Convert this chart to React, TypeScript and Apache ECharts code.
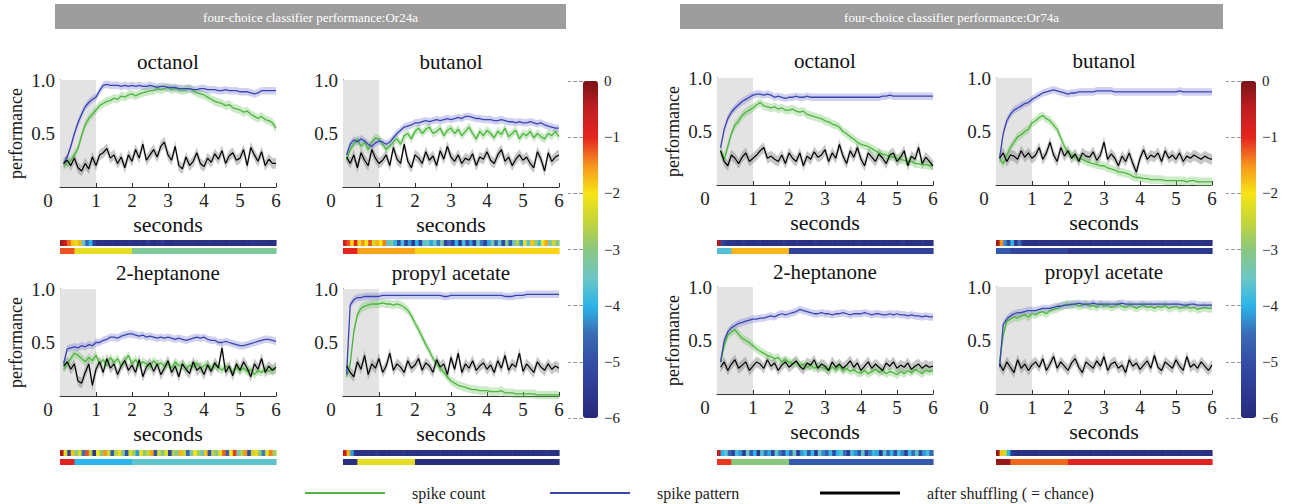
import React, { useEffect, useRef } from 'react';
import * as echarts from 'echarts';

// ---------- data ----------
const TIMES = [0.1,0.2,0.3,0.4,0.5,0.6,0.7,0.8,0.9,1.0, 1.1,1.2,1.3,1.4,1.5,1.6,1.7,1.8,1.9,2.0, 2.1,2.2,2.3,2.4,2.5,2.6,2.7,2.8,2.9,3.0, 3.1,3.2,3.3,3.4,3.5,3.6,3.7,3.8,3.9,4.0, 4.1,4.2,4.3,4.4,4.5,4.6,4.7,4.8,4.9,5.0, 5.1,5.2,5.3,5.4,5.5,5.6,5.7,5.8,5.9,6.0];
const SHADE = [[0, 1]];
const BOT_EDGES = [0, 0.4, 2, 6];
const SECOND_TICKS = [0, 1, 2, 3, 4, 5, 6];
const LEGEND_NAMES = ['spike count', 'spike pattern', 'after shuffling ( = chance)'];
const PANEL_TITLES = ['four-choice classifier performance:Or24a', 'four-choice classifier performance:Or74a'];
const ODORS = ['octanol', 'butanol', '2-heptanone', 'propyl acetate', 'octanol', 'butanol', '2-heptanone', 'propyl acetate'];
const HALF_WIDTH = { green: 0.04, blue: 0.035, black: 0.05 };

// Or24a octanol
const A_GREEN = [0.20,0.22,0.25,0.30,0.36,0.48,0.58,0.64,0.68,0.72, 0.76,0.78,0.80,0.81,0.83,0.82,0.85,0.84,0.86,0.87, 0.85,0.87,0.88,0.89,0.90,0.90,0.92,0.91,0.92,0.93, 0.91,0.92,0.91,0.90,0.91,0.92,0.90,0.88,0.87,0.86, 0.84,0.82,0.80,0.79,0.78,0.76,0.77,0.74,0.73,0.72, 0.70,0.71,0.68,0.66,0.64,0.66,0.63,0.62,0.60,0.55];
const A_BLUE = [0.22,0.28,0.38,0.50,0.60,0.68,0.75,0.79,0.82,0.84, 0.90,0.95,0.96,0.95,0.95,0.95,0.94,0.95,0.94,0.95, 0.94,0.95,0.94,0.94,0.95,0.94,0.93,0.94,0.94,0.93, 0.93,0.93,0.92,0.92,0.92,0.92,0.91,0.91,0.92,0.92, 0.91,0.91,0.91,0.90,0.90,0.91,0.90,0.90,0.90,0.89, 0.89,0.89,0.88,0.87,0.88,0.90,0.90,0.90,0.90,0.90];
const A_BLACK = [0.22,0.25,0.20,0.27,0.18,0.15,0.22,0.17,0.28,0.20, 0.30,0.32,0.36,0.27,0.30,0.22,0.28,0.18,0.30,0.24, 0.35,0.27,0.40,0.25,0.30,0.35,0.28,0.38,0.42,0.30, 0.25,0.38,0.20,0.17,0.28,0.20,0.24,0.32,0.22,0.19, 0.27,0.23,0.31,0.26,0.34,0.22,0.29,0.32,0.25,0.27, 0.35,0.20,0.37,0.30,0.24,0.33,0.20,0.26,0.22,0.22];
// Or24a butanol
const B_GREEN = [0.25,0.35,0.40,0.45,0.38,0.42,0.35,0.42,0.46,0.45, 0.40,0.35,0.38,0.42,0.45,0.40,0.48,0.50,0.45,0.52, 0.55,0.50,0.54,0.56,0.50,0.52,0.55,0.48,0.53,0.55, 0.50,0.54,0.48,0.52,0.56,0.50,0.45,0.52,0.48,0.53, 0.50,0.46,0.52,0.49,0.55,0.47,0.50,0.53,0.45,0.50, 0.48,0.52,0.46,0.50,0.47,0.45,0.50,0.48,0.52,0.47];
const B_BLUE = [0.30,0.40,0.44,0.42,0.45,0.43,0.40,0.38,0.41,0.43, 0.42,0.40,0.42,0.46,0.50,0.53,0.56,0.57,0.58,0.60, 0.60,0.61,0.62,0.61,0.62,0.63,0.62,0.63,0.64,0.63, 0.64,0.65,0.64,0.66,0.66,0.65,0.64,0.64,0.63,0.63, 0.63,0.62,0.62,0.63,0.62,0.61,0.61,0.60,0.61,0.60, 0.60,0.61,0.60,0.59,0.60,0.58,0.57,0.56,0.55,0.55];
const B_BLACK = [0.28,0.22,0.30,0.18,0.32,0.25,0.20,0.35,0.27,0.22, 0.25,0.30,0.20,0.37,0.26,0.22,0.40,0.24,0.18,0.30, 0.27,0.22,0.33,0.25,0.29,0.20,0.34,0.26,0.38,0.28, 0.24,0.30,0.22,0.27,0.25,0.31,0.20,0.28,0.26,0.33, 0.25,0.22,0.30,0.35,0.24,0.28,0.20,0.26,0.30,0.25, 0.28,0.22,0.18,0.33,0.26,0.15,0.32,0.24,0.28,0.30];
// Or24a 2-heptanone
const C_GREEN = [0.25,0.30,0.35,0.40,0.38,0.35,0.32,0.36,0.33,0.38, 0.30,0.34,0.28,0.36,0.31,0.35,0.28,0.33,0.38,0.30, 0.34,0.28,0.32,0.30,0.27,0.33,0.29,0.31,0.28,0.30, 0.26,0.32,0.28,0.30,0.25,0.29,0.27,0.31,0.26,0.28, 0.30,0.25,0.29,0.27,0.24,0.28,0.26,0.22,0.27,0.24, 0.26,0.23,0.25,0.20,0.24,0.22,0.26,0.23,0.25,0.25];
const C_BLUE = [0.30,0.44,0.45,0.46,0.45,0.47,0.46,0.48,0.47,0.50, 0.50,0.52,0.53,0.55,0.55,0.54,0.56,0.57,0.58,0.58, 0.57,0.56,0.57,0.55,0.56,0.55,0.54,0.55,0.54,0.55, 0.54,0.53,0.54,0.53,0.52,0.53,0.54,0.55,0.54,0.55, 0.53,0.52,0.52,0.50,0.50,0.51,0.50,0.49,0.48,0.47, 0.47,0.48,0.49,0.50,0.51,0.52,0.53,0.53,0.52,0.51];
const C_BLACK = [0.28,0.32,0.25,0.30,0.14,0.12,0.22,0.30,0.10,0.25, 0.32,0.22,0.35,0.26,0.30,0.20,0.28,0.33,0.24,0.29, 0.22,0.34,0.18,0.27,0.31,0.23,0.30,0.20,0.26,0.33, 0.22,0.28,0.18,0.30,0.25,0.21,0.32,0.24,0.27,0.20, 0.29,0.23,0.31,0.26,0.45,0.22,0.28,0.19,0.30,0.24, 0.32,0.26,0.18,0.30,0.25,0.35,0.22,0.28,0.24,0.27];
// Or24a propyl acetate
const D_GREEN = [0.18,0.30,0.60,0.76,0.82,0.84,0.85,0.86,0.86,0.86, 0.87,0.86,0.86,0.85,0.86,0.85,0.83,0.80,0.75,0.68, 0.62,0.55,0.48,0.42,0.35,0.30,0.26,0.22,0.18,0.14, 0.12,0.10,0.09,0.08,0.07,0.06,0.06,0.05,0.05,0.05, 0.04,0.04,0.04,0.05,0.03,0.03,0.03,0.02,0.02,0.02, 0.02,0.02,0.02,0.01,0.01,0.01,0.01,0.01,0.01,0.01];
const D_BLUE = [0.20,0.85,0.90,0.92,0.92,0.93,0.93,0.93,0.93,0.93, 0.94,0.94,0.94,0.94,0.94,0.94,0.94,0.94,0.94,0.94, 0.94,0.94,0.94,0.94,0.94,0.94,0.94,0.93,0.93,0.94, 0.94,0.94,0.94,0.94,0.94,0.94,0.94,0.94,0.94,0.94, 0.94,0.94,0.94,0.94,0.93,0.93,0.93,0.94,0.94,0.94, 0.95,0.95,0.95,0.95,0.95,0.95,0.95,0.95,0.95,0.95];
const D_BLACK = [0.28,0.22,0.18,0.32,0.25,0.38,0.20,0.30,0.26,0.35, 0.22,0.28,0.40,0.24,0.30,0.27,0.22,0.33,0.26,0.29, 0.35,0.24,0.31,0.28,0.22,0.34,0.27,0.30,0.20,0.36, 0.25,0.40,0.22,0.30,0.26,0.33,0.24,0.28,0.31,0.25, 0.29,0.22,0.33,0.26,0.38,0.24,0.30,0.27,0.40,0.23, 0.30,0.26,0.22,0.32,0.27,0.24,0.30,0.25,0.28,0.26];
// Or74a octanol
const E_GREEN = [0.32,0.24,0.36,0.48,0.56,0.60,0.65,0.68,0.70,0.72, 0.75,0.77,0.74,0.73,0.72,0.73,0.71,0.72,0.70,0.70, 0.71,0.69,0.68,0.69,0.66,0.65,0.64,0.63,0.62,0.60, 0.59,0.57,0.56,0.54,0.50,0.48,0.45,0.43,0.40,0.38, 0.37,0.36,0.34,0.32,0.30,0.29,0.28,0.27,0.26,0.25, 0.24,0.23,0.22,0.22,0.20,0.20,0.19,0.19,0.18,0.18];
const E_BLUE = [0.35,0.52,0.62,0.68,0.72,0.75,0.78,0.80,0.82,0.84, 0.85,0.85,0.84,0.85,0.84,0.82,0.83,0.82,0.81,0.82, 0.82,0.83,0.82,0.82,0.83,0.82,0.82,0.82,0.82,0.82, 0.82,0.82,0.82,0.82,0.82,0.82,0.82,0.82,0.82,0.82, 0.82,0.82,0.82,0.82,0.82,0.83,0.83,0.84,0.83,0.83, 0.83,0.83,0.83,0.83,0.83,0.83,0.83,0.83,0.83,0.83];
const E_BLACK = [0.32,0.22,0.18,0.28,0.25,0.20,0.26,0.30,0.22,0.25, 0.28,0.32,0.35,0.25,0.27,0.24,0.22,0.28,0.20,0.30, 0.25,0.22,0.30,0.18,0.27,0.24,0.31,0.26,0.28,0.33, 0.22,0.30,0.25,0.38,0.27,0.20,0.32,0.26,0.35,0.24, 0.18,0.30,0.26,0.22,0.29,0.25,0.20,0.28,0.30,0.22, 0.26,0.32,0.18,0.27,0.24,0.35,0.20,0.26,0.22,0.18];
// Or74a butanol
const F_GREEN = [0.25,0.20,0.28,0.35,0.40,0.45,0.47,0.50,0.52,0.58, 0.60,0.63,0.65,0.62,0.60,0.56,0.52,0.44,0.36,0.30, 0.28,0.26,0.25,0.24,0.22,0.21,0.20,0.19,0.18,0.18, 0.16,0.15,0.14,0.12,0.12,0.11,0.10,0.08,0.07,0.07, 0.06,0.06,0.05,0.05,0.05,0.05,0.04,0.04,0.04,0.04, 0.04,0.04,0.03,0.04,0.04,0.03,0.03,0.03,0.03,0.03];
const F_BLUE = [0.25,0.48,0.60,0.66,0.70,0.72,0.74,0.76,0.77,0.80, 0.82,0.84,0.86,0.87,0.88,0.89,0.88,0.87,0.86,0.85, 0.86,0.86,0.87,0.87,0.87,0.87,0.87,0.88,0.88,0.88, 0.88,0.88,0.87,0.87,0.87,0.87,0.87,0.87,0.87,0.87, 0.87,0.87,0.87,0.87,0.87,0.87,0.87,0.87,0.87,0.87, 0.88,0.87,0.87,0.87,0.87,0.87,0.87,0.87,0.87,0.87];
const F_BLACK = [0.25,0.30,0.22,0.28,0.27,0.24,0.32,0.26,0.30,0.25, 0.28,0.35,0.24,0.30,0.40,0.28,0.22,0.35,0.27,0.32, 0.25,0.29,0.22,0.30,0.27,0.26,0.31,0.23,0.28,0.40, 0.24,0.29,0.25,0.18,0.27,0.22,0.30,0.20,0.12,0.25, 0.33,0.24,0.28,0.26,0.30,0.22,0.32,0.25,0.28,0.24, 0.30,0.22,0.27,0.25,0.28,0.26,0.24,0.27,0.25,0.24];
// Or74a 2-heptanone
const G_GREEN = [0.30,0.45,0.55,0.58,0.60,0.56,0.52,0.50,0.48,0.45, 0.42,0.40,0.38,0.36,0.35,0.33,0.34,0.30,0.32,0.30, 0.28,0.30,0.26,0.28,0.25,0.27,0.24,0.26,0.25,0.24, 0.22,0.25,0.23,0.26,0.22,0.24,0.21,0.23,0.20,0.20, 0.22,0.19,0.21,0.23,0.20,0.22,0.19,0.21,0.20,0.18, 0.21,0.19,0.22,0.20,0.23,0.21,0.19,0.22,0.21,0.22];
const G_BLUE = [0.30,0.50,0.58,0.62,0.64,0.66,0.67,0.68,0.69,0.70, 0.70,0.71,0.71,0.72,0.73,0.72,0.74,0.75,0.74,0.75, 0.76,0.77,0.79,0.78,0.77,0.76,0.75,0.75,0.76,0.75, 0.75,0.74,0.75,0.75,0.76,0.75,0.74,0.75,0.75,0.75, 0.76,0.75,0.74,0.75,0.75,0.74,0.74,0.75,0.74,0.75, 0.74,0.74,0.73,0.74,0.73,0.73,0.72,0.73,0.72,0.72];
const G_BLACK = [0.25,0.30,0.22,0.28,0.32,0.24,0.27,0.30,0.22,0.26, 0.30,0.28,0.24,0.32,0.26,0.29,0.22,0.27,0.30,0.25, 0.28,0.31,0.26,0.23,0.29,0.27,0.32,0.24,0.28,0.26, 0.22,0.30,0.25,0.28,0.24,0.27,0.31,0.25,0.29,0.22, 0.26,0.30,0.24,0.28,0.25,0.22,0.29,0.26,0.30,0.24, 0.27,0.25,0.29,0.23,0.26,0.28,0.24,0.27,0.25,0.26];
// Or74a propyl acetate
const H_GREEN = [0.30,0.55,0.68,0.70,0.72,0.71,0.73,0.74,0.72,0.75, 0.74,0.76,0.77,0.75,0.78,0.79,0.80,0.82,0.83,0.84, 0.83,0.84,0.82,0.83,0.84,0.82,0.83,0.81,0.84,0.82, 0.83,0.81,0.82,0.84,0.82,0.81,0.83,0.82,0.80,0.82, 0.83,0.81,0.82,0.80,0.82,0.81,0.83,0.80,0.81,0.82, 0.80,0.81,0.82,0.80,0.81,0.79,0.80,0.81,0.80,0.80];
const H_BLUE = [0.25,0.65,0.70,0.73,0.75,0.76,0.76,0.77,0.78,0.78, 0.78,0.79,0.80,0.80,0.80,0.81,0.82,0.82,0.83,0.83, 0.84,0.84,0.85,0.84,0.84,0.84,0.85,0.84,0.84,0.84, 0.84,0.84,0.84,0.84,0.85,0.84,0.84,0.84,0.84,0.84, 0.84,0.84,0.84,0.84,0.84,0.84,0.84,0.84,0.84,0.84, 0.84,0.83,0.83,0.84,0.84,0.83,0.83,0.83,0.83,0.83];
const H_BLACK = [0.28,0.22,0.30,0.25,0.20,0.32,0.24,0.28,0.22,0.27, 0.30,0.25,0.33,0.22,0.28,0.35,0.24,0.30,0.26,0.22, 0.29,0.33,0.25,0.20,0.30,0.27,0.24,0.31,0.26,0.35, 0.22,0.28,0.30,0.24,0.27,0.20,0.32,0.26,0.29,0.23, 0.27,0.31,0.24,0.36,0.25,0.22,0.30,0.27,0.24,0.32, 0.26,0.22,0.35,0.25,0.28,0.24,0.30,0.26,0.22,0.27];

// log p-value strips (per 0.1 s bin) and per epoch
const A_STRIP = [-0.3,-0.7,-1.3,-1.8,-2.2,-1.7,-3.5,-4.6,-4.0,-5.4, -5.8,-5.7,-5.8,-5.8,-5.7,-5.8,-5.8,-5.8,-5.8,-5.7, -5.8,-5.8,-5.8,-5.8,-5.5,-5.8,-5.8,-5.8,-5.5,-5.8, -5.8,-5.8,-5.8,-5.8,-5.8,-5.8,-5.8,-5.8,-5.8,-5.8, -5.8,-5.7,-5.8,-5.8,-5.8,-5.8,-5.8,-5.8,-5.8,-5.8, -5.8,-5.8,-5.8,-5.6,-5.8,-5.8,-5.8,-5.8,-5.8,-5.8];
const B_STRIP = [-0.8,-1.2,-1.9,-1.0,-2.2,-1.5,-2.0,-1.2,-2.4,-1.7, -2.0,-1.4,-3.6,-3.2,-4.0,-5.0,-3.8,-5.3,-4.2,-5.5, -4.0,-5.2,-3.6,-3.4,-4.1,-3.5,-4.4,-3.3,-5.2,-4.6, -5.4,-4.0,-5.6,-3.8,-5.0,-4.2,-5.5,-3.5,-4.4,-5.3, -4.1,-3.3,-4.6,-3.6,-5.2,-3.2,-4.8,-3.4,-2.6,-4.2, -2.2,-3.6,-1.8,-2.8,-3.8,-2.0,-1.6,-3.4,-2.4,-3.0];
const C_STRIP = [-0.4,-2.2,-5.2,-1.8,-3.0,-2.3,-4.5,-1.2,-2.6,-5.6, -2.0,-3.0,-1.5,-2.4,-4.8,-2.7,-1.9,-3.2,-5.0,-2.3, -2.8,-4.2,-2.1,-3.0,-2.5,-1.6,-4.9,-2.4,-3.1,-2.2, -5.3,-2.7,-3.0,-1.7,-2.5,-4.6,-3.2,-2.0,-2.8,-3.4, -1.8,-5.0,-2.6,-3.1,-2.2,-1.3,-4.7,-2.0,-1.1,-3.3, -2.7,-1.5,-5.1,-2.5,-1.9,-3.0,-4.4,-2.2,-1.4,-2.8];
const D_STRIP = [-0.6,-1.7,-4.2,-5.7,-5.8,-5.8,-5.8,-5.8,-5.8,-5.6, -5.8,-5.8,-5.8,-5.8,-5.8,-5.8,-5.6,-5.8,-5.8,-5.8, -5.8,-5.8,-5.8,-5.8,-5.8,-5.8,-5.8,-5.8,-5.8,-5.8, -5.8,-5.8,-5.8,-5.8,-5.8,-5.8,-5.8,-5.8,-5.8,-5.8, -5.8,-5.8,-5.8,-5.8,-5.8,-5.8,-5.8,-5.8,-5.8,-5.8, -5.8,-5.8,-5.8,-5.8,-5.8,-5.8,-5.6,-5.8,-5.8,-5.8];
const E_STRIP = [-0.4,-5.3,-5.6,-5.8,-5.7,-5.8,-5.8,-5.6,-5.8,-5.8, -5.8,-5.7,-5.8,-5.8,-5.8,-5.8,-5.8,-5.8,-5.6,-5.8, -5.8,-5.8,-5.7,-5.8,-5.8,-5.8,-5.8,-5.6,-5.8,-5.8, -5.8,-5.8,-5.8,-5.7,-5.8,-5.8,-5.8,-5.8,-5.8,-5.6, -5.8,-5.8,-5.8,-5.8,-5.8,-5.7,-5.8,-5.8,-5.8,-5.8, -5.8,-5.6,-5.8,-5.8,-5.8,-5.8,-5.8,-5.7,-5.8,-5.8];
const F_STRIP = [-0.3,-1.5,-4.3,-5.2,-4.0,-5.5,-4.6,-5.7,-5.8,-5.8, -5.8,-5.8,-5.8,-5.8,-5.8,-5.8,-5.8,-5.8,-5.8,-5.8, -5.8,-5.8,-5.8,-5.8,-5.8,-5.8,-5.8,-5.8,-5.8,-5.8, -5.8,-5.8,-5.8,-5.8,-5.8,-5.8,-5.8,-5.8,-5.8,-5.8, -5.8,-5.8,-5.8,-5.8,-5.8,-5.8,-5.8,-5.8,-5.8,-5.8, -5.8,-5.8,-5.8,-5.8,-5.8,-5.8,-5.8,-5.8,-5.8,-5.8];
const G_STRIP = [-0.5,-4.0,-3.6,-4.6,-5.2,-3.8,-4.2,-5.5,-3.5,-4.8, -4.0,-5.6,-3.7,-4.5,-4.1,-5.3,-3.6,-4.4,-5.0,-3.9, -4.6,-3.5,-5.4,-4.2,-3.8,-4.9,-4.0,-5.6,-3.6,-4.3, -4.7,-3.9,-5.1,-4.0,-3.7,-4.5,-5.5,-3.8,-4.2,-4.8, -3.6,-5.2,-4.4,-3.9,-4.1,-5.6,-3.7,-4.6,-4.0,-5.0, -3.8,-4.3,-5.4,-3.9,-4.5,-3.6,-5.1,-4.2,-3.8,-4.6];
const H_STRIP = [-0.2,-1.8,-2.4,-4.0,-5.6,-5.8,-5.8,-5.8,-5.8,-5.8, -5.8,-5.8,-5.8,-5.8,-5.8,-5.8,-5.8,-5.8,-5.8,-5.8, -5.8,-5.8,-5.8,-5.8,-5.8,-5.8,-5.8,-5.8,-5.8,-5.8, -5.8,-5.8,-5.8,-5.8,-5.8,-5.8,-5.8,-5.8,-5.8,-5.8, -5.8,-5.8,-5.8,-5.8,-5.8,-5.8,-5.8,-5.8,-5.8,-5.8, -5.8,-5.8,-5.8,-5.8,-5.8,-5.8,-5.8,-5.8,-5.8,-5.8];
const A_EPOCH = [-1.2, -2.2, -3.2];
const B_EPOCH = [-1.0, -1.6, -1.9];
const C_EPOCH = [-0.9, -4.0, -3.6];
const D_EPOCH = [-5.8, -2.2, -5.9];
const E_EPOCH = [-3.7, -1.7, -5.3];
const F_EPOCH = [-4.8, -5.2, -5.6];
const G_EPOCH = [-1.1, -3.0, -4.8];
const H_EPOCH = [-0.2, -1.3, -0.9];
const COLORBAR_RANGE = [-6, 0];

// ---------- styles / layout ----------
const FONT = '"Liberation Serif", "Times New Roman", serif';
const JET = ['#272a79', '#2e3a93', '#344ea3', '#3a6cb7', '#2bb5ea', '#6dc6c5', '#8ac77f', '#c4d537', '#f7e415', '#f7941d', '#e52420', '#c01e21', '#7a1416'];
const LINE_COLOR = { green: '#4fb43f', blue: '#3a46b0', black: '#000000' };
const BAND_COLOR = { green: 'rgba(110,195,95,0.35)', blue: 'rgba(120,120,215,0.35)', black: 'rgba(130,130,130,0.45)' };
const COL_LEFT = [60, 343, 717, 996];
const PLOT_W = 216;
const PLOT_H = 107;
const ROW_TOP_L = [80, 289];
const ROW_TOP_R = [78, 287];
const STRIP_TOP = [[240, 248], [450, 459]];
const STRIP_H = 6;
const TITLE_Y = [62, 273];
const CBAR_LEFT = [583, 1241];
const CBAR_TOP = 81;
const CBAR_H = 337;

const PLOTS = [
  { green: A_GREEN, blue: A_BLUE, black: A_BLACK, strip: A_STRIP, epoch: A_EPOCH },
  { green: B_GREEN, blue: B_BLUE, black: B_BLACK, strip: B_STRIP, epoch: B_EPOCH },
  { green: C_GREEN, blue: C_BLUE, black: C_BLACK, strip: C_STRIP, epoch: C_EPOCH },
  { green: D_GREEN, blue: D_BLUE, black: D_BLACK, strip: D_STRIP, epoch: D_EPOCH },
  { green: E_GREEN, blue: E_BLUE, black: E_BLACK, strip: E_STRIP, epoch: E_EPOCH },
  { green: F_GREEN, blue: F_BLUE, black: F_BLACK, strip: F_STRIP, epoch: F_EPOCH },
  { green: G_GREEN, blue: G_BLUE, black: G_BLACK, strip: G_STRIP, epoch: G_EPOCH },
  { green: H_GREEN, blue: H_BLUE, black: H_BLACK, strip: H_STRIP, epoch: H_EPOCH },
];

function buildOption() {
  const grid: any[] = [];
  const xAxis: any[] = [];
  const yAxis: any[] = [];
  const series: any[] = [];
  const graphic: any[] = [];
  const stripSeries: number[][] = [[], []];

  // panel header bars
  const bars = [[55, 511], [680, 543]];
  bars.forEach((b, k) => {
    graphic.push({ type: 'rect', shape: { x: b[0], y: 4, width: b[1], height: 25 }, style: { fill: '#9d9d9d' }, silent: true });
    graphic.push({
      type: 'text', x: b[0] + b[1] / 2, y: 17, silent: true,
      style: { text: PANEL_TITLES[k], fill: '#ffffff', font: `13px ${FONT}`, align: 'center', verticalAlign: 'middle' },
    });
  });

  const stripRender = (params: any, api: any) => {
    const a = api.coord([api.value(0), 1]);
    const b = api.coord([api.value(1), 0]);
    return { type: 'rect', shape: { x: a[0], y: a[1], width: b[0] - a[0] + 0.6, height: b[1] - a[1] }, style: { fill: api.visual('color') } };
  };

  PLOTS.forEach((p, i) => {
    const side = i >= 4 ? 1 : 0;
    const col = (i % 2) + side * 2;
    const row = Math.floor((i % 4) / 2);
    const left = COL_LEFT[col];
    const top = side ? ROW_TOP_R[row] : ROW_TOP_L[row];
    const g = grid.length;
    grid.push({ left, top, width: PLOT_W, height: PLOT_H });
    xAxis.push({
      gridIndex: g, type: 'value', min: 0, max: 6, interval: 1,
      axisLine: { show: true, onZero: false, lineStyle: { color: '#333', width: 1 } },
      axisTick: { show: true, inside: true, length: 4, lineStyle: { color: '#333' } },
      splitLine: { show: false },
      axisLabel: {
        fontFamily: FONT, fontSize: 19, color: '#222', margin: 4,
        customValues: SECOND_TICKS,
        formatter: (v: number) => (v === 0 ? '{z|0}' : String(v)),
        rich: { z: { fontFamily: FONT, fontSize: 19, color: '#222', padding: [0, 24, 0, 0] } },
      },
      name: 'seconds', nameLocation: 'middle', nameGap: 26,
      nameTextStyle: { fontFamily: FONT, fontSize: 22, color: '#111' },
    });
    yAxis.push({
      gridIndex: g, type: 'value', min: 0, max: 1, interval: 0.5,
      axisLine: { show: true, onZero: false, lineStyle: { color: '#333', width: 1 } },
      axisTick: { show: true, inside: true, length: 4, lineStyle: { color: '#333' } },
      splitLine: { show: false },
      axisLabel: { fontFamily: FONT, fontSize: 19, color: '#222', margin: 5, formatter: (v: number) => (v === 0 ? '' : v.toFixed(1)) },
      name: col % 2 === 0 ? 'performance' : '', nameLocation: 'middle', nameGap: 35,
      nameTextStyle: { fontFamily: FONT, fontSize: 18, color: '#111' },
    });

    graphic.push({
      type: 'text', x: left + PLOT_W / 2, y: TITLE_Y[row] - (side ? 1 : 0), silent: true,
      style: { text: ODORS[i], fill: '#111', font: `21px ${FONT}`, align: 'center', verticalAlign: 'middle' },
    });

    // stimulus shading
    series.push({
      type: 'custom', xAxisIndex: g, yAxisIndex: g, silent: true, z: 1,
      data: SHADE, encode: { x: [0, 1] },
      renderItem: (params: any, api: any) => {
        const a = api.coord([api.value(0), 1]);
        const b = api.coord([api.value(1), 0]);
        return { type: 'rect', shape: { x: a[0], y: a[1], width: b[0] - a[0], height: b[1] - a[1] }, style: { fill: '#e3e3e3' } };
      },
    });

    const keys: ('black' | 'green' | 'blue')[] = ['black', 'green', 'blue'];
    keys.forEach((k) => {
      const vals: number[] = (p as any)[k];
      const hw = HALF_WIDTH[k];
      series.push({
        type: 'custom', xAxisIndex: g, yAxisIndex: g, silent: true, z: 2,
        data: TIMES.map((t, j) => [t, vals[j] - hw, vals[j] + hw]),
        encode: { x: 0, y: [1, 2] },
        renderItem: (params: any, api: any) => {
          if (params.dataIndex !== 0) return null;
          const pts: number[][] = [];
          for (let j = 0; j < TIMES.length; j++) pts.push(api.coord([TIMES[j], vals[j] + hw]));
          for (let j = TIMES.length - 1; j >= 0; j--) pts.push(api.coord([TIMES[j], vals[j] - hw]));
          return { type: 'polygon', shape: { points: pts }, style: { fill: BAND_COLOR[k] } };
        },
      });
    });
    const lineKeys: ('green' | 'blue' | 'black')[] = ['green', 'blue', 'black'];
    lineKeys.forEach((k, n) => {
      const vals: number[] = (p as any)[k];
      series.push({
        type: 'line', name: LEGEND_NAMES[n], xAxisIndex: g, yAxisIndex: g, silent: true, z: 3,
        data: TIMES.map((t, j) => [t, vals[j]]),
        symbol: 'none', showSymbol: false,
        lineStyle: { color: LINE_COLOR[k], width: k === 'black' ? 1.2 : 1.3 },
        itemStyle: { color: LINE_COLOR[k] },
      });
    });

    // significance strips
    const tops = STRIP_TOP[row];
    tops.forEach((st, s) => {
      const sg = grid.length;
      grid.push({ left, top: st, width: PLOT_W, height: STRIP_H });
      xAxis.push({ gridIndex: sg, type: 'value', min: 0, max: 6, show: false });
      yAxis.push({ gridIndex: sg, type: 'value', min: 0, max: 1, show: false });
      const data = s === 0
        ? p.strip.map((v, j) => [j === 0 ? 0 : TIMES[j - 1], TIMES[j], v])
        : p.epoch.map((v, j) => [BOT_EDGES[j], BOT_EDGES[j + 1], v]);
      stripSeries[side].push(series.length);
      series.push({
        type: 'custom', xAxisIndex: sg, yAxisIndex: sg, silent: true,
        dimensions: ['start', 'end', 'logp'], encode: { x: [0, 1] },
        data, renderItem: stripRender,
      });
    });
  });

  // colorbars
  const visualMap: any[] = [];
  CBAR_LEFT.forEach((cl, k) => {
    const cg = grid.length;
    grid.push({ left: cl, top: CBAR_TOP, width: 15, height: CBAR_H });
    xAxis.push({ gridIndex: cg, type: 'value', min: 0, max: 1, show: false });
    yAxis.push({
      gridIndex: cg, type: 'value', min: COLORBAR_RANGE[0], max: COLORBAR_RANGE[1], interval: 1, position: 'right', z: 10,
      axisLine: { show: false },
      axisTick: { show: true, inside: true, length: 15, lineStyle: { color: 'rgba(0,0,0,0.4)', type: 'dashed' } },
      splitLine: { show: false },
      axisLabel: { fontFamily: FONT, fontSize: 15, color: '#222', margin: 6, formatter: (v: number) => (v === 0 ? '0' : '\u2212' + Math.abs(v)) },
    });
    visualMap.push({
      type: 'continuous', min: COLORBAR_RANGE[0], max: COLORBAR_RANGE[1], dimension: 2,
      seriesIndex: stripSeries[k], inRange: { color: JET },
      left: cl, top: CBAR_TOP, itemWidth: 15, itemHeight: CBAR_H, padding: 0,
      calculable: false, realtime: false, hoverLink: false,
    });
  });

  // legend
  const legendPos = [300, 545, 815];
  const legend = LEGEND_NAMES.map((nm, n) => ({
    data: [{ name: nm, icon: 'rect' }],
    left: legendPos[n], top: 480, itemWidth: 80, itemHeight: n === 2 ? 3 : 2,
    selectedMode: false,
    textStyle: { fontFamily: FONT, fontSize: 16, color: '#222', padding: [0, 0, 0, 22] },
  }));

  return {
    animation: false, backgroundColor: '#ffffff',
    textStyle: { fontFamily: FONT },
    grid, xAxis, yAxis, series, visualMap, legend, graphic,
  };
}

export default function App() {
  const ref = useRef<HTMLDivElement>(null);
  useEffect(() => {
    document.body.style.margin = '0';
    const chart = echarts.init(ref.current!, null, { renderer: 'svg' });
    chart.setOption(buildOption() as any);
    return () => chart.dispose();
  }, []);
  return <div ref={ref} style={{ width: 1293, height: 504 }} />;
}
